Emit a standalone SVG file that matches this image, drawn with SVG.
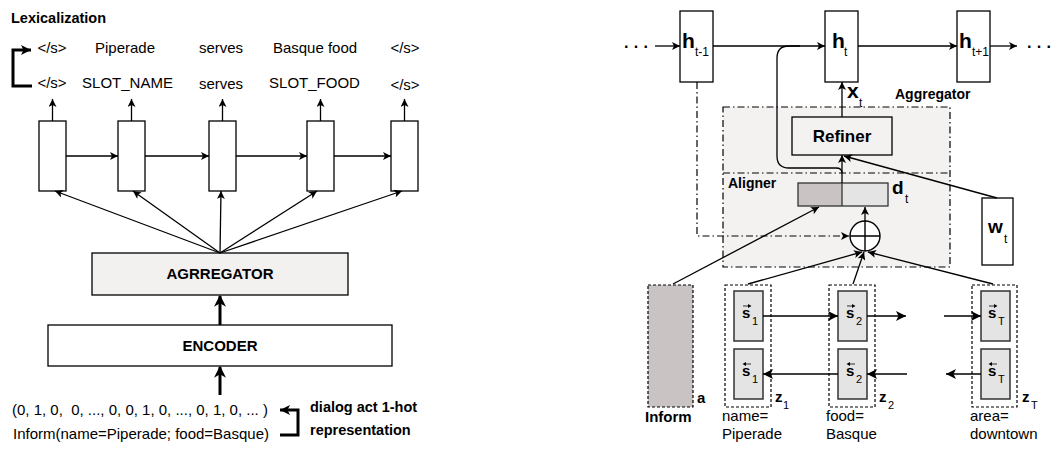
<svg xmlns="http://www.w3.org/2000/svg" width="1061" height="450" viewBox="0 0 1061 450">
<defs>
<style>
text{font-family:"Liberation Sans",Arial,sans-serif;fill:#000}
.b{font-weight:bold}
.t15{font-size:15px}
.ln{stroke:#000;stroke-width:1.3;fill:none}
.thick{stroke:#000;stroke-width:3;fill:none}
.box{fill:#fff;stroke:#000;stroke-width:1.3}
.dd{stroke:#000;stroke-width:1.2;stroke-dasharray:7,3,1.5,3;fill:none}
.dash{stroke:#000;stroke-width:1.2;stroke-dasharray:3,2}
.sbox{fill:#e4e4e4;stroke:#333;stroke-width:1.5}
.big{font-size:21px;font-weight:bold}
.sub{font-size:12px}
.sv{font-size:15px;font-weight:bold}
.ss{font-size:11px}
</style>
<marker id="a" viewBox="0 0 10 10" refX="10" refY="5" markerWidth="9" markerHeight="8" markerUnits="userSpaceOnUse" orient="auto"><path d="M0,0 L10,5 L0,10 L2.5,5 z" fill="#000"/></marker>
<marker id="am" viewBox="0 0 10 10" refX="10" refY="5" markerWidth="11" markerHeight="10" markerUnits="userSpaceOnUse" orient="auto"><path d="M0,0 L10,5 L0,10 L2.5,5 z" fill="#000"/></marker>
<marker id="at" viewBox="0 0 10 10" refX="9" refY="5" markerWidth="13" markerHeight="12" markerUnits="userSpaceOnUse" orient="auto"><path d="M0,0 L10,5 L0,10 L3,5 z" fill="#000"/></marker>
</defs>

<!-- LEFT DIAGRAM -->
<g id="title"><text class="b" x="11" y="23" font-size="14.5">Lexicalization</text></g>

<g id="outputs" class="t15" text-anchor="middle">
<text x="52" y="53">&lt;/s&gt;</text>
<text x="125" y="53">Piperade</text>
<text x="221" y="53">serves</text>
<text x="315" y="53">Basque food</text>
<text x="405" y="53">&lt;/s&gt;</text>
<text x="52" y="88">&lt;/s&gt;</text>
<text x="127.5" y="88">SLOT_NAME</text>
<text x="221" y="89">serves</text>
<text x="314.5" y="88">SLOT_FOOD</text>
<text x="405" y="90">&lt;/s&gt;</text>
</g>

<g id="rnn1"><rect class="box" x="39" y="121" width="27" height="70"/></g>
<g id="rnn2"><rect class="box" x="118" y="121" width="27" height="70"/></g>
<g id="rnn3"><rect class="box" x="209" y="121" width="27" height="70"/></g>
<g id="rnn4"><rect class="box" x="307" y="121" width="27" height="70"/></g>
<g id="rnn5"><rect class="box" x="391" y="121" width="27" height="70"/></g>

<g id="aggregator"><rect x="92" y="253" width="256" height="42" fill="#f3f0f0" stroke="#000" stroke-width="1.3"/><text class="b t15" x="220" y="279" text-anchor="middle">AGRREGATOR</text></g>
<g id="encoder"><rect class="box" x="48" y="325" width="344" height="41"/><text class="b t15" x="220" y="351" text-anchor="middle">ENCODER</text></g>

<g id="input" class="t15">
<text x="12" y="415" xml:space="preserve">(0, 1, 0,  0, ..., 0, 0, 1, 0, ..., 0, 1, 0, ... )</text>
<text x="13" y="439">Inform(name=Piperade; food=Basque)</text>
</g>
<g id="input-label" class="b" font-size="14.5">
<text x="310" y="412">dialog act 1-hot</text>
<text x="310" y="435">representation</text>
</g>

<g id="left-connectors">
<path class="thick" d="M32,86 L13,86 L13,50 L31,50" marker-end="url(#am)"/>
<path class="ln" d="M52.5,121 V99" marker-end="url(#a)"/>
<path class="ln" d="M131.5,121 V99" marker-end="url(#a)"/>
<path class="ln" d="M222.5,121 V99" marker-end="url(#a)"/>
<path class="ln" d="M320.5,121 V99" marker-end="url(#a)"/>
<path class="ln" d="M404.5,121 V99" marker-end="url(#a)"/>
<path class="ln" d="M66,156 H118" marker-end="url(#a)"/>
<path class="ln" d="M145,156 H209" marker-end="url(#a)"/>
<path class="ln" d="M236,156 H307" marker-end="url(#a)"/>
<path class="ln" d="M334,156 H391" marker-end="url(#a)"/>
<path class="ln" d="M220,253 L55,191" marker-end="url(#a)"/>
<path class="ln" d="M220,253 L133,191" marker-end="url(#a)"/>
<path class="ln" d="M220,253 L221,191" marker-end="url(#a)"/>
<path class="ln" d="M220,253 L317,191" marker-end="url(#a)"/>
<path class="ln" d="M220,253 L402,191" marker-end="url(#a)"/>
<path class="thick" d="M220,325 V296" marker-end="url(#at)"/>
<path class="thick" d="M220,395 V367" marker-end="url(#at)"/>
<path class="thick" d="M280,435 H298 V410 H280" marker-end="url(#am)"/>
</g>

<!-- RIGHT DIAGRAM -->
<g id="agg-region">
<rect x="723" y="107" width="227" height="160" fill="#f4f1f1"/>
<rect class="dd" x="723" y="107" width="227" height="160"/>
<path class="dd" d="M723,173 H950"/>
<text class="b" x="895" y="99" font-size="14">Aggregator</text>
<text class="b" x="728" y="188" font-size="14">Aligner</text>
</g>

<g id="dots"><text class="b" x="624" y="52" font-size="16">· · ·</text><text class="b" x="1027" y="52" font-size="16">· · ·</text></g>

<g id="h-prev"><rect class="box" x="680" y="11" width="33" height="71"/><text class="big" x="682" y="48">h</text><text class="sub" x="695" y="56">t-1</text></g>
<g id="h-cur"><rect class="box" x="825" y="11" width="33" height="71"/><text class="big" x="832" y="48">h</text><text class="sub" x="844" y="56">t</text></g>
<g id="h-next"><rect class="box" x="957" y="11" width="33" height="71"/><text class="big" x="959" y="48">h</text><text class="sub" x="972" y="56">t+1</text></g>

<g id="xt"><text class="big" x="847" y="98">x</text><text class="sub" x="859" y="107">t</text></g>

<g id="refiner"><rect x="792" y="117" width="100" height="38" fill="#f4f1f1" stroke="#000" stroke-width="1.3"/><text class="b" x="842" y="142" font-size="17" text-anchor="middle">Refiner</text></g>

<g id="dt"><rect x="798" y="183" width="44" height="23" fill="#c9c3c3"/><rect x="842" y="183" width="46" height="23" fill="#e4e4e4"/><rect x="798" y="183" width="90" height="23" fill="none" stroke="#333" stroke-width="1.3"/><path d="M842,183 V206" stroke="#333" stroke-width="1.3"/><text class="b" x="892" y="194" font-size="19">d</text><text class="sub" x="905" y="203">t</text></g>

<g id="oplus"><circle cx="865" cy="236" r="15" fill="#fff" stroke="#000" stroke-width="1.4"/><path d="M850,236 H880 M865,221 V251" stroke="#000" stroke-width="1.4"/></g>

<g id="wt"><rect class="box" x="982" y="198" width="31" height="67"/><text class="b" x="988" y="233" font-size="19">w</text><text class="sub" x="1004" y="243">t</text></g>

<g id="inform"><rect class="dash" x="648" y="285" width="45" height="122" fill="#c9c3c3"/><text class="b t15" x="697" y="403">a</text><text class="b t15" x="645" y="422">Inform</text></g>

<g id="z1">
<rect class="dash" x="725" y="285" width="46" height="122" fill="none"/>
<rect class="sbox" x="734" y="291" width="29" height="50"/>
<rect class="sbox" x="734" y="349" width="29" height="50"/>
<text class="sv" x="742" y="318">s</text><text class="ss" x="752" y="325">1</text>
<path d="M743,306 H749" stroke="#000" stroke-width="0.8"/><path d="M748,304 L751.5,306 L748,308 z"/>
<text class="sv" x="742" y="376">s</text><text class="ss" x="752" y="383">1</text>
<path d="M745,364 H751" stroke="#000" stroke-width="0.8"/><path d="M746,362 L742.5,364 L746,366 z"/>
<text class="b" x="775" y="402" font-size="15">z</text><text class="ss" x="783" y="409">1</text>
<text class="t15" x="722" y="421">name=</text><text class="t15" x="722" y="439">Piperade</text>
</g>

<g id="z2">
<rect class="dash" x="829" y="285" width="46" height="122" fill="none"/>
<rect class="sbox" x="838" y="291" width="29" height="50"/>
<rect class="sbox" x="838" y="349" width="29" height="50"/>
<text class="sv" x="846" y="318">s</text><text class="ss" x="856" y="325">2</text>
<path d="M847,306 H853" stroke="#000" stroke-width="0.8"/><path d="M852,304 L855.5,306 L852,308 z"/>
<text class="sv" x="846" y="376">s</text><text class="ss" x="856" y="383">2</text>
<path d="M849,364 H855" stroke="#000" stroke-width="0.8"/><path d="M850,362 L846.5,364 L850,366 z"/>
<text class="b" x="879" y="402" font-size="15">z</text><text class="ss" x="888" y="409">2</text>
<text class="t15" x="826" y="421">food=</text><text class="t15" x="826" y="439">Basque</text>
</g>

<g id="zT">
<rect class="dash" x="972" y="285" width="45" height="122" fill="none"/>
<rect class="sbox" x="981" y="291" width="29" height="50"/>
<rect class="sbox" x="981" y="349" width="29" height="50"/>
<text class="sv" x="988" y="318">s</text><text class="ss" x="998" y="325">T</text>
<path d="M989,306 H995" stroke="#000" stroke-width="0.8"/><path d="M994,304 L997.5,306 L994,308 z"/>
<text class="sv" x="988" y="376">s</text><text class="ss" x="998" y="383">T</text>
<path d="M991,364 H997" stroke="#000" stroke-width="0.8"/><path d="M992,362 L988.5,364 L992,366 z"/>
<text class="b" x="1022" y="402" font-size="15">z</text><text class="ss" x="1031" y="409">T</text>
<text class="t15" x="970" y="421">area=</text><text class="t15" x="970" y="439">downtown</text>
</g>

<g id="right-connectors">
<path class="ln" d="M655,46 H680" marker-end="url(#a)"/>
<path class="ln" d="M713,46 H825" marker-end="url(#a)"/>
<path class="ln" d="M858,46 H957" marker-end="url(#a)"/>
<path class="ln" d="M990,46 H1017" marker-end="url(#a)"/>
<path class="ln" d="M842,173 C842,169 840,168 836,168 L789,168 Q777,168 777,156 L777,58 Q777,46 789,46 L800,46"/>
<path class="ln" d="M842,117 V82" marker-end="url(#a)"/>
<path class="ln" d="M842,183 V155" marker-end="url(#a)"/>
<path class="ln" d="M997,198 L844,156" marker-end="url(#a)"/>
<path class="dd" d="M697,82 V236 H849" marker-end="url(#a)"/>
<path class="ln" d="M865,221 V207" marker-end="url(#a)"/>
<path class="ln" d="M673,284 L819,207" marker-end="url(#a)"/>
<path class="ln" d="M748,284 L862,252" marker-end="url(#a)"/>
<path class="ln" d="M853,284 L864,252" marker-end="url(#a)"/>
<path class="ln" d="M993,284 L868,252" marker-end="url(#a)"/>
<path class="ln" d="M763,316 H838" marker-end="url(#am)"/>
<path class="ln" d="M867,316 H906" marker-end="url(#am)"/>
<path class="ln" d="M944,316 H981" marker-end="url(#am)"/>
<path class="ln" d="M838,374 H763" marker-end="url(#am)"/>
<path class="ln" d="M907,374 H867" marker-end="url(#am)"/>
<path class="ln" d="M981,374 H946" marker-end="url(#am)"/>
</g>
</svg>
